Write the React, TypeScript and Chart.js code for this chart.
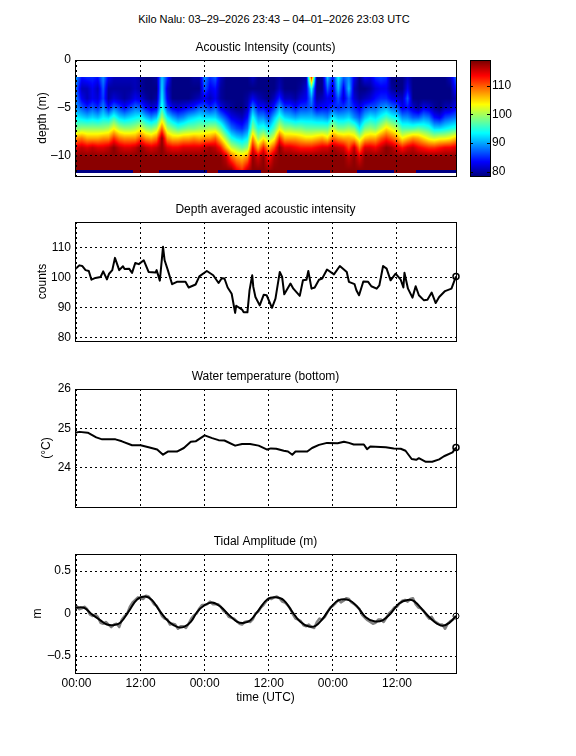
import React, { useEffect, useRef } from "react";
import { Chart, registerables } from "chart.js";
Chart.register(...registerables);

const FONT = "'Liberation Sans', Arial, sans-serif";
const pageTitle = "Kilo Nalu: 03–29–2026 23:43 – 04–01–2026 23:03 UTC";
const titles = ["Acoustic Intensity (counts)", "Depth averaged acoustic intensity", "Water temperature (bottom)", "Tidal Amplitude (m)"];
const yTitles = ["depth (m)", "counts", "(°C)", "m"];
const xTitle = "time (UTC)";
const xTickValues = [0, 12, 24, 36, 48, 60];
const xTickLabels = ["00:00", "12:00", "00:00", "12:00", "00:00", "12:00"];
const xRange = [-0.28, 71.05];

const depthTicks = [0, -5, -10];
const depthTickLabels = ["0", "–5", "–10"];
const countTicks = [80, 90, 100, 110];
const tempTicks = [24, 25, 26];
const tideTicks = [-0.5, 0, 0.5];
const tideTickLabels = ["–0.5", "0", "0.5"];
const colorbarTicks = [80, 90, 100, 110];

const intensityDepths = [-1.81, -3, -4, -5, -6, -7.15, -8.15, -9.15, -10.1, -11.49];
// one line per hour, values at intensityDepths
const intensity = [
  [90, 88, 89, 90, 94, 99, 108, 115, 118, 118],
  [85, 82, 84, 88, 93, 100, 109, 116, 118, 118],
  [86, 82, 82, 86, 92, 100, 107, 115, 118, 118],
  [86, 84, 84, 88, 93, 100, 107, 116, 118, 118],
  [85, 82, 83, 86, 92, 100, 107, 115, 118, 118],
  [90, 88, 87, 90, 94, 100, 108, 115, 118, 118],
  [84, 81, 81, 85, 93, 101, 108, 116, 118, 118],
  [82, 81, 83, 89, 96, 104, 112, 118, 118, 118],
  [82, 81, 82, 87, 93, 101, 109, 116, 118, 118],
  [82, 81, 81, 85, 92, 100, 108, 115, 118, 118],
  [82, 81, 82, 87, 93, 100, 108, 115, 118, 118],
  [82, 82, 84, 89, 94, 101, 108, 116, 118, 118],
  [81, 81, 83, 88, 95, 103, 111, 118, 118, 118],
  [80, 80, 81, 85, 92, 100, 108, 116, 118, 118],
  [80, 80, 80, 83, 90, 99, 107, 115, 118, 118],
  [81, 80, 81, 84, 92, 101, 109, 116, 118, 118],
  [92, 93, 94, 96, 101, 110, 118, 118, 118, 118],
  [86, 83, 84, 87, 94, 101, 108, 115, 118, 118],
  [80, 80, 80, 84, 91, 99, 106, 114, 118, 118],
  [80, 80, 80, 83, 89, 97, 106, 114, 118, 118],
  [80, 80, 80, 84, 90, 98, 107, 115, 118, 118],
  [80, 80, 80, 85, 92, 99, 107, 115, 118, 118],
  [81, 80, 81, 86, 93, 99, 108, 115, 118, 118],
  [81, 80, 82, 88, 94, 100, 107, 115, 118, 118],
  [90, 88, 84, 88, 93, 100, 108, 116, 118, 118],
  [86, 84, 82, 86, 93, 101, 108, 117, 118, 118],
  [88, 85, 84, 88, 93, 101, 110, 116, 118, 118],
  [82, 81, 81, 84, 90, 98, 105, 113, 118, 118],
  [80, 80, 80, 82, 87, 93, 100, 107, 116, 118],
  [80, 80, 80, 81, 84, 89, 95, 102, 110, 118],
  [80, 80, 80, 80, 83, 87, 93, 100, 107, 114],
  [80, 80, 80, 80, 82, 86, 92, 98, 106, 112],
  [80, 80, 81, 82, 85, 89, 94, 100, 108, 116],
  [82, 80, 84, 90, 95, 100, 108, 114, 118, 118],
  [80, 80, 82, 85, 90, 95, 100, 107, 115, 118],
  [80, 80, 81, 85, 90, 96, 104, 113, 118, 118],
  [80, 80, 80, 83, 87, 93, 100, 107, 113, 117],
  [80, 80, 82, 86, 92, 97, 103, 111, 117, 118],
  [81, 82, 86, 91, 96, 103, 112, 118, 118, 118],
  [80, 80, 82, 87, 93, 100, 107, 115, 118, 118],
  [80, 80, 82, 87, 92, 100, 107, 115, 118, 118],
  [80, 80, 81, 85, 91, 99, 107, 114, 118, 118],
  [80, 81, 83, 87, 92, 99, 106, 113, 118, 118],
  [81, 83, 84, 87, 92, 98, 105, 113, 118, 118],
  [112, 95, 90, 88, 92, 98, 105, 113, 118, 118],
  [80, 80, 81, 84, 91, 98, 106, 114, 118, 118],
  [80, 80, 82, 85, 91, 98, 107, 115, 118, 118],
  [92, 88, 84, 85, 90, 98, 105, 115, 118, 118],
  [85, 83, 83, 87, 94, 102, 110, 117, 118, 118],
  [94, 92, 88, 86, 92, 99, 108, 116, 118, 118],
  [88, 84, 83, 87, 92, 99, 107, 115, 118, 118],
  [90, 92, 88, 88, 93, 100, 107, 111, 116, 118],
  [84, 82, 83, 86, 90, 99, 106, 116, 118, 118],
  [80, 80, 81, 84, 88, 94, 102, 109, 115, 118],
  [84, 80, 82, 87, 92, 99, 106, 115, 118, 118],
  [83, 81, 83, 88, 94, 100, 107, 115, 118, 118],
  [86, 83, 85, 88, 93, 99, 107, 114, 118, 118],
  [87, 84, 86, 90, 95, 102, 110, 116, 118, 118],
  [86, 84, 86, 91, 97, 105, 112, 118, 118, 118],
  [80, 81, 84, 89, 95, 103, 110, 117, 118, 118],
  [80, 80, 83, 88, 94, 101, 108, 115, 118, 118],
  [80, 80, 82, 84, 90, 97, 104, 113, 118, 118],
  [82, 84, 88, 85, 90, 97, 106, 115, 118, 118],
  [80, 80, 80, 83, 88, 97, 108, 116, 118, 118],
  [80, 80, 80, 81, 88, 98, 107, 114, 118, 118],
  [80, 80, 80, 84, 90, 97, 105, 113, 118, 118],
  [80, 80, 80, 83, 89, 96, 103, 112, 118, 118],
  [80, 80, 80, 81, 85, 93, 102, 112, 118, 118],
  [80, 80, 80, 80, 84, 93, 103, 113, 118, 118],
  [80, 80, 80, 82, 87, 94, 103, 114, 118, 118],
  [82, 80, 80, 82, 88, 95, 104, 114, 118, 118],
  [88, 85, 82, 84, 89, 96, 106, 115, 118, 118],
];
// bottom bin, hour by hour (low = blue strip under the sediment echo)
const bottomBin = [
  80, 80, 80, 80, 80, 80, 80, 80, 80, 80, 80, 118, 118, 118, 118, 118, 80, 80, 80, 80, 80, 80, 80, 80,
  80, 118, 118, 80, 80, 80, 80, 80, 80, 80, 80, 118, 118, 118, 118, 118, 80, 80, 80, 80, 80, 80, 80, 80,
  118, 118, 118, 118, 118, 80, 80, 80, 80, 80, 80, 80, 118, 118, 118, 118, 80, 80, 80, 80, 80, 80, 80, 80,
];
const intensityTop = -1.81;
const intensityBottom = -11.83;

const avgHours = [-0.28, 0.56, 1.06, 1.7, 2.3, 2.8, 3.55, 4.5, 5, 5.7, 6.1, 6.7, 7.2, 8, 8.7, 9, 9.85, 10.4, 11, 11.66, 12.6, 13.5, 14.8, 15, 15.6, 16.2, 16.5, 17.1, 17.9, 18.8, 20.4, 21, 22.3, 23, 24.4, 25.6, 26.6, 27.2, 27.7, 28.3, 29.05, 29.7, 29.9, 31, 31.3, 32, 32.4, 32.9, 33.1, 33.5, 34.3, 35.06, 35.6, 36.6, 37.25, 38.06, 38.5, 38.9, 40.06, 40.6, 41.8, 42.4, 43.06, 43.4, 44, 44.6, 45.4, 46, 46.9, 48.2, 49.3, 50.6, 51, 52.06, 52.4, 52.9, 53.7, 54.6, 55.2, 56.2, 56.7, 57.4, 58.06, 58.8, 59.75, 60.7, 61.2, 61.4, 62.06, 62.9, 63.5, 64.1, 65.06, 65.7, 66.5, 67.25, 67.9, 69, 70.2, 71.05];
const avgCounts = [102.8, 104.1, 103.9, 102.5, 102.2, 99.3, 99.9, 100.2, 102.1, 99.4, 101.3, 102.5, 106.6, 102.5, 103.8, 102.9, 103, 101.6, 104.9, 104.5, 105.8, 101.9, 101.7, 102.5, 99, 110.3, 105.8, 102.5, 97.8, 98.6, 98.6, 96.7, 97.7, 100.4, 102.2, 100.8, 98.2, 99.8, 99.7, 96.7, 94.6, 88.2, 90.6, 89.3, 88.4, 88.4, 95.8, 100.8, 96.9, 93.5, 90.7, 94.3, 94.1, 89.9, 93, 101.9, 100.2, 94.4, 98, 96.3, 93.9, 99.1, 99.3, 102.2, 96.3, 96.7, 99.3, 99.7, 102.7, 101.1, 103.9, 101.9, 98.6, 97.8, 95.8, 94.1, 98.7, 98.6, 97.1, 96.3, 97.4, 103.9, 103, 99.1, 101.3, 99.3, 96.7, 101.6, 96.3, 93.3, 97.1, 94.1, 92.4, 92.6, 95, 91.5, 93.5, 95.5, 96.3, 100.4];

const tempHours = [-0.28, 0.56, 2.1, 3.7, 4.8, 7.3, 8.5, 10.4, 12, 13.5, 15.1, 16.2, 17.1, 18.8, 20.1, 21.4, 22.3, 24, 25.4, 26.6, 27.7, 29.7, 31, 32.5, 34.1, 35.7, 36.4, 37.4, 38.8, 39.6, 40.4, 41, 43.2, 44.1, 45.4, 46.9, 48.9, 50.06, 51, 51.9, 53.8, 54.4, 55, 57.9, 59.4, 60.7, 61.6, 62.75, 63.6, 64.1, 65.4, 66.6, 67.9, 68.8, 70.4, 71.05];
const tempValues = [24.89, 24.91, 24.89, 24.77, 24.72, 24.72, 24.67, 24.57, 24.57, 24.52, 24.46, 24.33, 24.41, 24.41, 24.5, 24.66, 24.67, 24.82, 24.75, 24.7, 24.69, 24.56, 24.6, 24.6, 24.56, 24.46, 24.49, 24.48, 24.43, 24.41, 24.33, 24.41, 24.41, 24.5, 24.58, 24.63, 24.62, 24.66, 24.63, 24.59, 24.59, 24.47, 24.54, 24.52, 24.49, 24.48, 24.43, 24.22, 24.2, 24.24, 24.15, 24.15, 24.21, 24.29, 24.39, 24.51];

const tideHours = [-0.28, 1.4, 2.9, 4.5, 5.7, 7, 8.2, 9.8, 11.35, 12.9, 14.15, 15.7, 17.3, 18.85, 20.1, 21.4, 22.6, 23.9, 25.4, 27, 28.6, 30.1, 31.4, 32.56, 34.1, 35.7, 37.25, 38.8, 40.4, 41.9, 43.5, 44.75, 46, 47.6, 49.1, 51, 52.6, 54.1, 55.7, 57.3, 58.8, 60.4, 62, 63.2, 65.1, 67, 68.5, 69.8, 71.05];
const tideValues = [0.067, 0.067, -0.01, -0.08, -0.13, -0.137, -0.11, 0.027, 0.165, 0.2, 0.157, 0.02, -0.098, -0.157, -0.157, -0.098, 0.02, 0.094, 0.13, 0.078, -0.02, -0.098, -0.11, -0.08, 0.04, 0.165, 0.19, 0.157, 0.02, -0.098, -0.153, -0.145, -0.07, 0.07, 0.157, 0.157, 0.078, -0.04, -0.09, -0.08, 0, 0.118, 0.16, 0.145, 0.02, -0.098, -0.145, -0.11, -0.03];
// half-hourly raw readings from hour 0
const rawTideValues = [
  0.09, 0.05, 0.06, 0.08, 0.05, -0.01, -0.03, -0.01, -0.04, -0.11, -0.12, -0.1, -0.13, -0.16, -0.13, -0.12, -0.16, -0.07,
  -0.03, 0, 0.08, 0.13, 0.16, 0.19, 0.18, 0.17, 0.21, 0.2, 0.16, 0.11, 0.09, 0.04, -0.03, -0.06, -0.07, -0.13,
  -0.12, -0.13, -0.18, -0.15, -0.15, -0.17, -0.12, -0.06, -0.02, 0, 0.06, 0.1, 0.1, 0.11, 0.14, 0.11, 0.11, 0.11,
  0.08, 0.03, 0.01, -0.04, -0.05, -0.06, -0.09, -0.12, -0.13, -0.1, -0.09, -0.1, -0.07, 0, 0.02, 0.07, 0.1, 0.14,
  0.18, 0.17, 0.19, 0.2, 0.18, 0.14, 0.13, 0.1, 0.06, -0.01, -0.06, -0.07, -0.09, -0.14, -0.15, -0.13, -0.16, -0.17,
  -0.1, -0.06, -0.07, -0.04, 0.02, 0.07, 0.09, 0.12, 0.16, 0.13, 0.15, 0.18, 0.17, 0.13, 0.11, 0.08, 0.05, -0.02,
  -0.05, -0.08, -0.1, -0.12, -0.11, -0.07, -0.07, -0.1, -0.05, 0, 0.03, 0.07, 0.08, 0.12, 0.15, 0.16, 0.14, 0.17,
  0.18, 0.11, 0.07, 0.06, 0.03, -0.02, -0.06, -0.04, -0.09, -0.11, -0.13, -0.13, -0.18, -0.12, -0.09, -0.07, -0.03,
];
const rawTideStep = 0.5;

const clim = [78.5, 118.9];
const heatLow = 79.8;
const heatHigh = 118.4;

function jet(t: number): [number, number, number] {
  t = Math.max(0, Math.min(1, t));
  const f = (c: number) => Math.max(0, Math.min(1, 1.5 - Math.abs(4 * t - c)));
  return [f(3) * 255, f(2) * 255, f(1) * 255];
}

function pairs(xs: number[], ys: number[]) {
  return xs.map((x, i) => ({ x, y: ys[i] }));
}

const boxPlugin = {
  id: "box",
  afterDraw(chart: any) {
    const { left, top, width, height } = chart.chartArea;
    const c = chart.ctx;
    c.save();
    c.strokeStyle = "#000";
    c.lineWidth = 1;
    c.setLineDash([]);
    c.strokeRect(Math.round(left) + 0.5, Math.round(top) + 0.5, Math.round(width), Math.round(height));
    c.restore();
  },
};

const heatPlugin = {
  id: "heat",
  beforeDatasetsDraw(chart: any) {
    const a = chart.chartArea;
    const sx = chart.scales.x;
    const sy = chart.scales.y;
    const L = Math.round(a.left);
    const T = Math.round(a.top);
    const W = Math.round(a.right - a.left);
    const H = Math.round(a.bottom - a.top);
    const img = chart.ctx.createImageData(W, H);
    const n = intensity.length;
    const m = intensityDepths.length;
    for (let py = 0; py < H; py++) {
      const d = sy.getValueForPixel(T + py + 0.5);
      if (d > intensityTop || d < intensityBottom) continue;
      let j = 0;
      while (j < m - 2 && d < intensityDepths[j + 1]) j++;
      const fy = Math.max(0, Math.min(1, (intensityDepths[j] - d) / (intensityDepths[j] - intensityDepths[j + 1])));
      for (let px = 0; px < W; px++) {
        const h = Math.max(0, Math.min(n - 1, sx.getValueForPixel(L + px + 0.5)));
        let v: number;
        if (d < intensityDepths[m - 1]) {
          v = bottomBin[Math.round(h)];
        } else {
          const i = Math.min(n - 2, Math.floor(h));
          const fx = h - i;
          const top = intensity[i][j] * (1 - fx) + intensity[i + 1][j] * fx;
          const bot = intensity[i][j + 1] * (1 - fx) + intensity[i + 1][j + 1] * fx;
          v = top * (1 - fy) + bot * fy;
        }
        const [r, g, b] = jet((v - heatLow) / (heatHigh - heatLow));
        const o = (py * W + px) * 4;
        img.data[o] = r;
        img.data[o + 1] = g;
        img.data[o + 2] = b;
        img.data[o + 3] = 255;
      }
    }
    const off = document.createElement("canvas");
    off.width = W;
    off.height = H;
    off.getContext("2d")!.putImageData(img, 0, 0);
    chart.ctx.drawImage(off, L, T);
  },
};

const barPlugin = {
  id: "bar",
  beforeDatasetsDraw(chart: any) {
    const a = chart.chartArea;
    const sy = chart.scales.y;
    const c = chart.ctx;
    for (let p = Math.round(a.top); p < Math.round(a.bottom); p++) {
      const v = sy.getValueForPixel(p + 0.5);
      const [r, g, b] = jet((v - clim[0]) / (heatHigh - clim[0]));
      c.fillStyle = `rgb(${r},${g},${b})`;
      c.fillRect(a.left, p, a.right - a.left, 1);
    }
  },
  afterDraw(chart: any) {
    const a = chart.chartArea;
    const sy = chart.scales.y;
    const c = chart.ctx;
    c.strokeStyle = "#000";
    c.lineWidth = 1;
    colorbarTicks.forEach((t) => {
      const p = Math.round(sy.getPixelForValue(t)) + 0.5;
      c.beginPath();
      c.moveTo(a.left, p);
      c.lineTo(a.left + 3, p);
      c.moveTo(a.right - 3, p);
      c.lineTo(a.right, p);
      c.stroke();
    });
  },
};

type Panel = {
  top: number;
  bottom: number;
  yRange: number[];
  yTicks: number[];
  yLabels: string[];
  title: string;
  yTitle: string;
  yTitlePad: number;
  datasets: any[];
  bottomAxis?: boolean;
  plugins?: any[];
};

const TITLE_H = 12 * 1.2 + 5;

function makePanel(canvas: HTMLCanvasElement, p: Panel) {
  const xH = p.bottomAxis ? 32 : 0;
  return new Chart(canvas, {
    type: "scatter",
    data: { datasets: p.datasets },
    plugins: [boxPlugin, ...(p.plugins || [])],
    options: {
      animation: false,
      responsive: false,
      events: [],
      layout: { padding: { left: 0, right: 120, top: p.top - TITLE_H, bottom: 756 - p.bottom - xH } },
      plugins: {
        legend: { display: false },
        tooltip: { enabled: false },
        title: {
          display: true,
          text: p.title,
          color: "#000",
          fullSize: false,
          font: { family: FONT, size: 12, weight: "normal", lineHeight: 1.2 },
          padding: { top: 0, bottom: 5 },
        },
      },
      scales: {
        x: {
          type: "linear",
          min: xRange[0],
          max: xRange[1],
          afterBuildTicks: (s: any) => {
            s.ticks = xTickValues.map((value) => ({ value }));
          },
          afterFit: (s: any) => {
            s.height = xH;
          },
          grid: { color: "#000", lineWidth: 1, drawTicks: false, z: 1 },
          border: { display: false, dash: [2, 3] },
          ticks: {
            display: !!p.bottomAxis,
            autoSkip: false,
            maxRotation: 0,
            padding: 3,
            color: "#000",
            font: { family: FONT, size: 12 },
            callback: (v: any) => xTickLabels[xTickValues.indexOf(v)],
          },
          title: {
            display: !!p.bottomAxis,
            text: xTitle,
            color: "#000",
            font: { family: FONT, size: 12 },
            padding: { top: 0, bottom: 0 },
          },
        },
        y: {
          type: "linear",
          min: p.yRange[0],
          max: p.yRange[1],
          afterBuildTicks: (s: any) => {
            s.ticks = p.yTicks.map((value) => ({ value }));
          },
          afterFit: (s: any) => {
            s.width = 75;
          },
          grid: { color: "#000", lineWidth: 1, drawTicks: false, z: 1 },
          border: { display: false, dash: [2, 3] },
          ticks: {
            autoSkip: false,
            padding: 4,
            color: "#000",
            font: { family: FONT, size: 12 },
            callback: (v: any) => p.yLabels[p.yTicks.indexOf(v)],
          },
          title: {
            display: true,
            text: p.yTitle,
            color: "#000",
            font: { family: FONT, size: 12 },
            padding: { top: p.yTitlePad, bottom: 0 },
          },
        },
      },
    } as any,
  });
}

function lineSet(xs: number[], ys: number[], color: string, width: number, smooth = false) {
  return {
    data: pairs(xs, ys),
    showLine: true,
    borderColor: color,
    borderWidth: width,
    borderJoinStyle: "round",
    pointRadius: 0,
    tension: smooth ? 0.4 : 0,
  };
}

function endMarker(x: number, y: number, width: number) {
  return {
    data: [{ x, y }],
    pointRadius: 3,
    pointBackgroundColor: "rgba(0,0,0,0)",
    pointBorderColor: "#000",
    pointBorderWidth: width,
    clip: false,
  };
}

export default function App() {
  const refs = [useRef<HTMLCanvasElement>(null), useRef<HTMLCanvasElement>(null), useRef<HTMLCanvasElement>(null), useRef<HTMLCanvasElement>(null), useRef<HTMLCanvasElement>(null)];
  useEffect(() => {
    const rawHours = rawTideValues.map((_, i) => i * rawTideStep);
    const last = (a: number[]) => a[a.length - 1];
    const charts = [
      makePanel(refs[0].current!, {
        top: 60,
        bottom: 176,
        yRange: [-12.1, 0],
        yTicks: depthTicks,
        yLabels: depthTickLabels,
        title: titles[0],
        yTitle: yTitles[0],
        yTitlePad: 35,
        datasets: [{ data: [] }],
        plugins: [heatPlugin],
      }),
      makePanel(refs[1].current!, {
        top: 222,
        bottom: 341,
        yRange: [78.8, 118.6],
        yTicks: countTicks,
        yLabels: countTicks.map(String),
        title: titles[1],
        yTitle: yTitles[1],
        yTitlePad: 35,
        datasets: [lineSet(avgHours, avgCounts, "#000", 2), endMarker(last(avgHours), last(avgCounts), 1.5)],
      }),
      makePanel(refs[2].current!, {
        top: 389,
        bottom: 507,
        yRange: [23, 26],
        yTicks: tempTicks,
        yLabels: tempTicks.map(String),
        title: titles[2],
        yTitle: yTitles[2],
        yTitlePad: 39,
        datasets: [lineSet(tempHours, tempValues, "#000", 2), endMarker(last(tempHours), last(tempValues), 1.5)],
      }),
      makePanel(refs[3].current!, {
        top: 554,
        bottom: 673,
        yRange: [-0.7, 0.7],
        yTicks: tideTicks,
        yLabels: tideTickLabels,
        title: titles[3],
        yTitle: yTitles[3],
        yTitlePad: 30,
        bottomAxis: true,
        datasets: [
          lineSet(tideHours, tideValues, "#000", 2, true),
          lineSet(rawHours, rawTideValues, "#808080", 2.5),
          endMarker(last(tideHours), last(tideValues), 1),
        ],
      }),
      new Chart(refs[4].current!, {
        type: "scatter",
        data: { datasets: [{ data: [] }] },
        plugins: [barPlugin, boxPlugin],
        options: {
          animation: false,
          responsive: false,
          events: [],
          layout: { padding: { left: 470, right: 56, top: 60, bottom: 756 - 176 } },
          plugins: { legend: { display: false }, tooltip: { enabled: false } },
          scales: {
            x: { display: false },
            y: {
              type: "linear",
              position: "right",
              min: clim[0],
              max: clim[1],
              afterBuildTicks: (s: any) => {
                s.ticks = colorbarTicks.map((value) => ({ value }));
              },
              afterFit: (s: any) => {
                s.width = 30;
              },
              grid: { display: false, drawTicks: false, tickLength: 0 },
              border: { display: false },
              ticks: { autoSkip: false, padding: 2, color: "#000", font: { family: FONT, size: 12 } },
            },
          },
        } as any,
      }),
    ];
    return () => charts.forEach((c) => c.destroy());
  }, []);
  const abs: React.CSSProperties = { position: "absolute", left: 0, top: 0, display: "block" };
  return (
    <div style={{ position: "absolute", left: 0, top: 0, width: 576, height: 756, background: "#fff" }}>
      <div style={{ position: "absolute", left: 0, top: 13, width: 548, textAlign: "center", font: `11px ${FONT}`, color: "#000" }}>{pageTitle}</div>
      {refs.map((r, i) => (
        <canvas key={i} ref={r} width={576} height={756} style={abs} />
      ))}
    </div>
  );
}
